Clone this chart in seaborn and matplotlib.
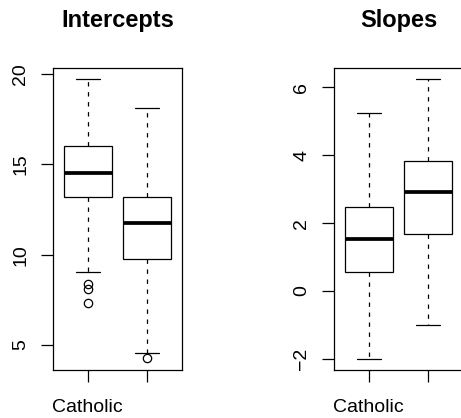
import numpy as np
import pandas as pd
import matplotlib
matplotlib.use("Agg")
import matplotlib.pyplot as plt
import seaborn as sns

# School sectors (the second tick label is left off, as in base-R axes)
sectors = ["Catholic", "Public"]
tick_labels = ["Catholic", ""]

# Five-number summaries per sector: lower whisker, Q1, median, Q3, upper whisker
intercept_lo = [9.04, 4.58]
intercept_q1 = [13.19, 9.74]
intercept_med = [14.50, 11.74]
intercept_q3 = [16.02, 13.21]
intercept_hi = [19.72, 18.12]
intercept_fliers = [[8.40, 8.10, 7.35], [4.27]]

slope_lo = [-2.01, -0.99]
slope_q1 = [0.56, 1.69]
slope_med = [1.53, 2.92]
slope_q3 = [2.46, 3.82]
slope_hi = [5.25, 6.25]
slope_fliers = [[], []]


def summary_sample(lo, q1, med, q3, hi, fliers, reps=20):
    """Equal-weight sample whose quartiles and whisker ends equal the summary."""
    vals = [lo] * reps + [q1] * reps + [med] * reps + [q3] * reps + [hi] * reps
    return vals + list(fliers)


def long_frame(lo, q1, med, q3, hi, fliers):
    rows = []
    for i, s in enumerate(sectors):
        for v in summary_sample(lo[i], q1[i], med[i], q3[i], hi[i], fliers[i]):
            rows.append((s, v))
    return pd.DataFrame(rows, columns=["sector", "value"])


df_int = long_frame(intercept_lo, intercept_q1, intercept_med,
                    intercept_q3, intercept_hi, intercept_fliers)
df_slope = long_frame(slope_lo, slope_q1, slope_med,
                      slope_q3, slope_hi, slope_fliers)

sns.set_theme(style="white")
plt.rcParams["font.family"] = ["Liberation Sans", "DejaVu Sans"]

W, H = 461, 418
fig = plt.figure(figsize=(W / 100, H / 100), dpi=100)

LW = 0.9
box_kw = dict(
    order=sectors, color="white", linecolor="black", linewidth=LW,
    width=0.8, whis=1.5, fill=True,
    medianprops={"linewidth": 2.7, "color": "black"},
    whiskerprops={"linestyle": (0, (3.5, 4.5)), "linewidth": LW, "color": "black"},
    capprops={"linewidth": LW, "color": "black"},
    boxprops={"linewidth": LW, "edgecolor": "black", "facecolor": "white"},
    flierprops={"marker": "o", "markersize": 6, "markerfacecolor": "none",
                "markeredgecolor": "black", "markeredgewidth": LW},
)


def style_axes(ax, ylim, yticks, title):
    ax.set_xlim(-0.58, 1.58)
    ax.set_ylim(*ylim)
    ax.set_xticks([0, 1], labels=tick_labels)
    ax.set_yticks(yticks, labels=[str(t).replace("-", "\u2212") for t in yticks])
    ax.set_xlabel("")
    ax.set_ylabel("")
    for sp in ax.spines.values():
        sp.set_visible(True)
        sp.set_color("black")
        sp.set_linewidth(LW)
    ax.tick_params(axis="both", direction="out", length=8.6, width=LW,
                   color="black", labelsize=14, labelcolor="black")
    ax.tick_params(axis="x", bottom=True, pad=12.0)
    ax.tick_params(axis="y", left=True, pad=8.5, labelrotation=90)
    for lab in ax.get_yticklabels():
        lab.set_va("center")
    pos = ax.get_position()
    fig.text(pos.x0 + pos.width / 2, 1 - 26.5 / H, title, ha="center",
             va="baseline", fontsize=17, fontweight="bold", color="black")


ax1 = fig.add_axes([53 / W, 48 / H, 129 / W, 302 / H])
sns.boxplot(data=df_int, x="sector", y="value", ax=ax1, **box_kw)
style_axes(ax1, (3.62, 20.33), [5, 10, 15, 20], "Intercepts")

ax2 = fig.add_axes([334 / W, 48 / H, 129 / W, 302 / H])
sns.boxplot(data=df_slope, x="sector", y="value", ax=ax2, **box_kw)
style_axes(ax2, (-2.33, 6.57), [-2, 0, 2, 4, 6], "Slopes")

fig.savefig("out.png", dpi=100, facecolor="white")
